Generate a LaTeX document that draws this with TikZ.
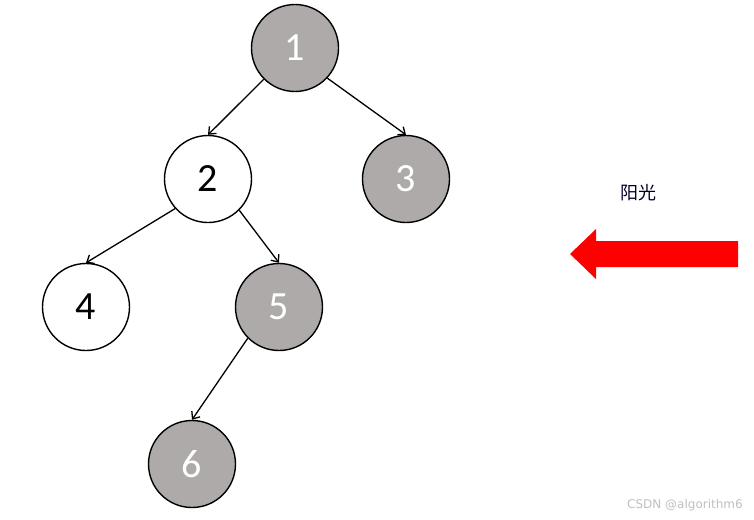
\documentclass[tikz,border=0pt]{standalone}
\usepackage{fontspec}
\setmainfont{Carlito}
\newfontfamily\cjk{Noto Sans CJK SC}
\newfontfamily\wmfont{DejaVu Sans}
\usetikzlibrary{arrows.meta,shapes.arrows}
\definecolor{nodegray}{RGB}{174,170,170}
\begin{document}
\begin{tikzpicture}[x=1pt,y=-1pt,
  tn/.style={circle,draw=black,line width=1.4pt,minimum size=87pt,inner sep=0pt,font=\fontsize{40}{40}\selectfont},
  gn/.style={tn,fill=nodegray,text=white},
  wn/.style={tn,fill=white,text=black},
  edge/.style={line width=1.3pt,-{Straight Barb[length=6pt,width=10pt]}}]
\useasboundingbox (0,0) rectangle (754,519);
\node[gn] (n1) at (295,48) {1};
\node[wn] (n2) at (208,179) {2};
\node[gn] (n3) at (406,179) {3};
\node[wn] (n4) at (86,307) {4};
\node[gn] (n5) at (279,307) {5};
\node[gn] (n6) at (192,464) {6};
\draw[edge] (n1.225) -- (n2.north);
\draw[edge] (n1.-43) -- (n3.north);
\draw[edge] (n2.222) -- (n4.north);
\draw[edge] (n2.-45) -- (n5.north);
\draw[edge] (n5.225) -- (n6.north);
\fill[red] (738,241) -- (596,241) -- (596,229) -- (570,254) -- (596,279) -- (596,267) -- (738,267) -- cycle;
\node[font=\cjk\fontsize{18}{18}\selectfont,text=black!85!blue] (sun) at (638,193) {阳光};
\node[font=\wmfont\fontsize{12}{12}\selectfont,text=black!25] (wm) at (685,505) {CSDN @algorithm6};
\end{tikzpicture}
\end{document}
